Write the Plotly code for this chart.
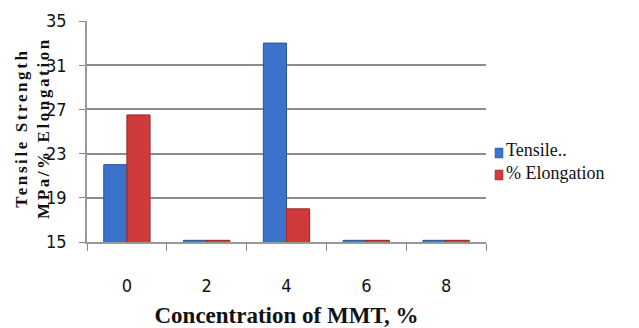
import plotly.graph_objects as go

# MMT loading (%) and measured properties
concentration = ["0", "2", "4", "6", "8"]
tensile = [22.0, 15.15, 33.0, 15.15, 15.15]
elongation = [26.5, 15.15, 18.0, 15.15, 15.15]
y_ticks = [15, 19, 23, 27, 31, 35]

series_names = ["Tensile..", "% Elongation"]
series_colors = ["#3a72cc", "#cf3a3a"]
series_edges = ["#2a55a0", "#9c2626"]

narrow = "DejaVu Sans Condensed, Liberation Sans Narrow, Arial Narrow, sans-serif"
serif = "Liberation Serif, Times New Roman, serif"

fig = go.Figure()
for vals, name, col, edge in zip([tensile, elongation], series_names, series_colors, series_edges):
    fig.add_trace(go.Bar(
        x=concentration, y=vals, name=name, showlegend=False,
        marker=dict(color=col, line=dict(color=edge, width=1)),
    ))

# Hand-drawn legend: small coloured squares with serif labels
plot_top, plot_bottom, plot_left, plot_right = 21, 242, 87, 486
def py(p):
    return (plot_bottom - p) / (plot_bottom - plot_top)
def px(p):
    return (p - plot_left) / (plot_right - plot_left)

legend_square_rows = [153, 175]
legend_text_rows = [150, 173]
shapes = []
annotations = []
for srow, trow, name, col, edge in zip(legend_square_rows, legend_text_rows,
                                       series_names, series_colors, series_edges):
    shapes.append(dict(
        type="rect", xref="paper", yref="paper",
        x0=px(495), x1=px(503), y0=py(srow + 5), y1=py(srow - 5),
        fillcolor=col, line=dict(color=edge, width=0.5),
    ))
    annotations.append(dict(
        text=name, xref="paper", yref="paper",
        x=px(504), y=py(trow), xanchor="left", yanchor="middle",
        showarrow=False, font=dict(family=serif, size=18, color="#111"),
    ))

# Two-line vertical axis title
annotations.append(dict(
    text="<b><span style='letter-spacing:2.6px'>Tensile Strength</span><br>"
         "<span style='letter-spacing:2.6px'>MPa/% Elongation</span></b>",
    xref="paper", yref="paper", x=0, y=py(128), xanchor="center", yanchor="middle",
    xshift=-54, textangle=-90, showarrow=False,
    font=dict(family=serif, size=17, color="#111"),
))

fig.update_layout(
    width=639, height=328,
    margin=dict(l=87, r=153, t=21, b=86),
    paper_bgcolor="white", plot_bgcolor="white",
    barmode="group", bargap=0.42, bargroupgap=0,
    showlegend=False,
    shapes=shapes, annotations=annotations,
    xaxis=dict(
        type="category",
        ticks="outside", tickson="boundaries", ticklen=7, tickcolor="#888",
        showline=True, linecolor="#999", linewidth=1.5,
        showgrid=False,
        tickfont=dict(family=narrow, size=18, color="#111"),
        ticklabelstandoff=27,
        title=dict(text="<b>Concentration of MMT, %</b>",
                   font=dict(family=serif, size=23, color="#111"),
                   standoff=12),
        automargin=False,
    ),
    yaxis=dict(
        range=[15, 35], tickvals=y_ticks,
        ticks="outside", ticklen=6, tickcolor="#888",
        showline=True, linecolor="#999", linewidth=1.5,
        showgrid=True, gridcolor="#8c8c8c", gridwidth=1.5,
        zeroline=False,
        tickfont=dict(family=narrow, size=18, color="#111"),
        ticklabelstandoff=9,
        automargin=False,
    ),
)

fig.write_html("out.html")
